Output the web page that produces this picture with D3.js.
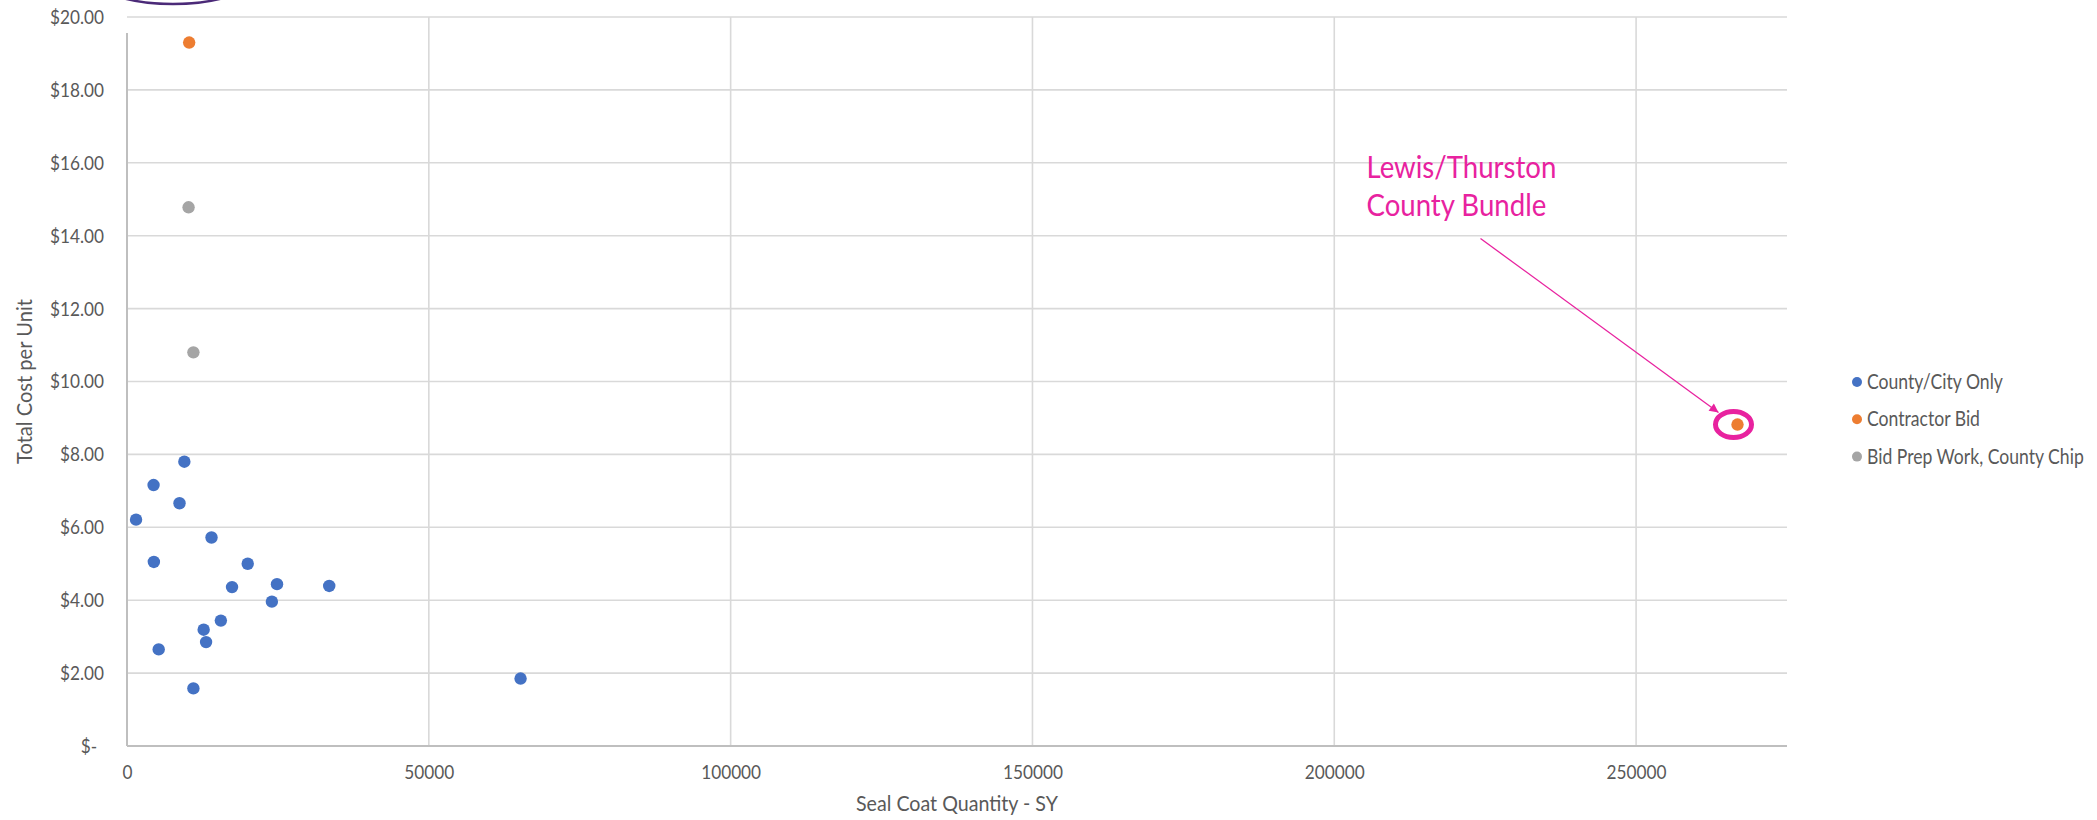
<!DOCTYPE html>
<html>
<head>
<meta charset="utf-8">
<script src="https://cdn.jsdelivr.net/npm/d3@7"></script>
<style>
  html, body { margin: 0; padding: 0; background: #ffffff; }
  svg { display: block; }
  text { font-family: Lato, "Open Sans", "Liberation Sans", sans-serif; fill: #595959; }
</style>
</head>
<body>
<svg id="chart" width="2097" height="820"></svg>
<script>
// ---- Series: seal coat quantity (SY) and total cost per unit ($) ----
const seriesNames  = ["County/City Only", "Contractor Bid", "Bid Prep Work, County Chip"];
const seriesColors = ["#4472c4", "#ed7d31", "#a5a5a5"];

const countyQty  = [9500, 4400, 8700, 1500, 14000, 4450, 20000, 17400, 24850, 33500, 24000, 15550, 12700, 13100, 5250, 11000, 65200];
const countyCost = [7.80, 7.16, 6.66, 6.21, 5.72, 5.05, 5.00, 4.36, 4.44, 4.39, 3.96, 3.44, 3.19, 2.85, 2.65, 1.58, 1.85];

const contractorQty  = [10300, 266800];
const contractorCost = [19.30, 8.82];

const bidPrepQty  = [10200, 11000];
const bidPrepCost = [14.78, 10.80];

const xTicks = [0, 50000, 100000, 150000, 200000, 250000];
const yTicks = [0, 2, 4, 6, 8, 10, 12, 14, 16, 18, 20];

const xTitle = "Seal Coat Quantity - SY";
const yTitle = "Total Cost per Unit";
const calloutLines = ["Lewis/Thurston", "County Bundle"];
const calloutIndex = 1; // the contractor bid that the callout points at

// ---- Layout ----
const svg = d3.select("#chart");
const plot = { left: 127, right: 1787, top: 17, bottom: 746 };

const x = d3.scaleLinear().domain([0, 275000]).range([plot.left, plot.right]);
const y = d3.scaleLinear().domain([0, 20]).range([plot.bottom, plot.top]);

const gridColor = "#d9d9d9";
const axisColor = "#bfbfbf";
const calloutColor = "#e8229f";

// Set a font size on a group of labels, then narrow them horizontally (about
// each label's own anchor) so the reference label renders at the given width.
function fitText(all, ref, width, size, prefix) {
  all.style("font-size", size + "px");
  const r = width / ref.node().getComputedTextLength();
  all.each(function () {
    const t = d3.select(this);
    const ax = +t.attr("x") || 0, ay = +t.attr("y") || 0;
    t.attr("transform",
      (prefix || "") + `translate(${ax},${ay}) scale(${r},1) translate(${-ax},${-ay})`);
  });
}

// ---- Gridlines ----
svg.append("g").selectAll("line")
  .data(yTicks.filter(d => d > 0))
  .join("line")
  .attr("x1", plot.left).attr("x2", plot.right)
  .attr("y1", d => y(d)).attr("y2", d => y(d))
  .attr("stroke", gridColor).attr("stroke-width", 1.6);

svg.append("g").selectAll("line")
  .data(xTicks.filter(d => d > 0))
  .join("line")
  .attr("x1", d => x(d)).attr("x2", d => x(d))
  .attr("y1", plot.top).attr("y2", plot.bottom)
  .attr("stroke", gridColor).attr("stroke-width", 1.6);

// ---- Axis lines ----
svg.append("line")
  .attr("x1", plot.left).attr("x2", plot.right)
  .attr("y1", plot.bottom).attr("y2", plot.bottom)
  .attr("stroke", axisColor).attr("stroke-width", 2);
svg.append("line")
  .attr("x1", plot.left).attr("x2", plot.left)
  .attr("y1", 33).attr("y2", plot.bottom)
  .attr("stroke", axisColor).attr("stroke-width", 2);

// ---- Tick labels ----
const yAxis = svg.append("g")
  .attr("transform", `translate(${plot.left},0)`)
  .call(d3.axisLeft(y).tickValues(yTicks).tickSize(0).tickPadding(23)
    .tickFormat(d => d === 0 ? "$-" : "$" + d3.format(".2f")(d)));
yAxis.select(".domain").remove();
const yLabels = yAxis.selectAll("text").attr("fill", "#595959").style("font-family", null);
yLabels.filter(d => d === 0).attr("dx", -8);
fitText(yLabels, yLabels.filter(d => d === 20), 54, 20);

const xAxis = svg.append("g")
  .attr("transform", `translate(0,${plot.bottom})`)
  .call(d3.axisBottom(x).tickValues(xTicks).tickSize(0).tickFormat(d3.format("d")));
xAxis.select(".domain").remove();
const xLabels = xAxis.selectAll("text").attr("fill", "#595959").style("font-family", null)
  .attr("dy", null).attr("y", 33);
fitText(xLabels, xLabels.filter(d => d === 100000), 60, 20);

// ---- Axis titles ----
const xt = svg.append("text")
  .attr("x", (plot.left + plot.right) / 2).attr("y", 811)
  .attr("text-anchor", "middle").text(xTitle);
fitText(xt, xt, 202, 21);

const yt = svg.append("text")
  .attr("text-anchor", "middle").text(yTitle);
fitText(yt, yt, 165, 21, `translate(32,${(plot.top + plot.bottom) / 2}) rotate(-90) `);

// ---- Points ----
const series = [
  { qty: countyQty, cost: countyCost },
  { qty: contractorQty, cost: contractorCost },
  { qty: bidPrepQty, cost: bidPrepCost }
];
series.forEach((s, i) => {
  svg.append("g").selectAll("circle")
    .data(s.qty.map((q, j) => [q, s.cost[j]]))
    .join("circle")
    .attr("cx", d => x(d[0])).attr("cy", d => y(d[1]))
    .attr("r", 6.2)
    .attr("fill", seriesColors[i]);
});

// ---- Legend ----
const legend = svg.append("g").attr("transform", "translate(1857,382)");
const items = legend.selectAll("g").data(seriesNames).join("g")
  .attr("transform", (d, i) => `translate(0,${i * 37.3})`);
items.append("circle").attr("r", 5).attr("fill", (d, i) => seriesColors[i]);
const legText = items.append("text").attr("x", 10).attr("dy", "0.35em").text(d => d);
fitText(legText, legText.filter((d, i) => i === 0), 136, 20.5);

// ---- Callout on the bundled contractor bid ----
const px = x(contractorQty[calloutIndex]);
const py = y(contractorCost[calloutIndex]);

svg.append("defs").append("marker")
  .attr("id", "arrowhead")
  .attr("viewBox", "0 0 10 10")
  .attr("refX", 10).attr("refY", 5)
  .attr("markerWidth", 11).attr("markerHeight", 9)
  .attr("markerUnits", "userSpaceOnUse")
  .attr("orient", "auto")
  .append("path").attr("d", "M0,0 L10,5 L0,10 Z").attr("fill", calloutColor);

svg.append("line")
  .attr("x1", px - 257).attr("y1", py - 186)
  .attr("x2", px - 19).attr("y2", py - 12)
  .attr("stroke", calloutColor).attr("stroke-width", 1.3)
  .attr("marker-end", "url(#arrowhead)");

svg.append("ellipse")
  .attr("cx", px - 4).attr("cy", py)
  .attr("rx", 18).attr("ry", 13)
  .attr("fill", "none").attr("stroke", calloutColor).attr("stroke-width", 5);

const cl = svg.append("g").selectAll("text").data(calloutLines).join("text")
  .attr("x", px - 371).attr("y", (d, i) => py - 246 + i * 37)
  .style("fill", calloutColor).text(d => d);
fitText(cl, cl.filter((d, i) => i === 0), 190, 30);

// ---- Outlined shape at the top edge ----
svg.append("ellipse")
  .attr("cx", 173).attr("cy", -23).attr("rx", 80).attr("ry", 27)
  .attr("fill", "none").attr("stroke", "#4b2a78").attr("stroke-width", 2.5);
</script>
</body>
</html>
